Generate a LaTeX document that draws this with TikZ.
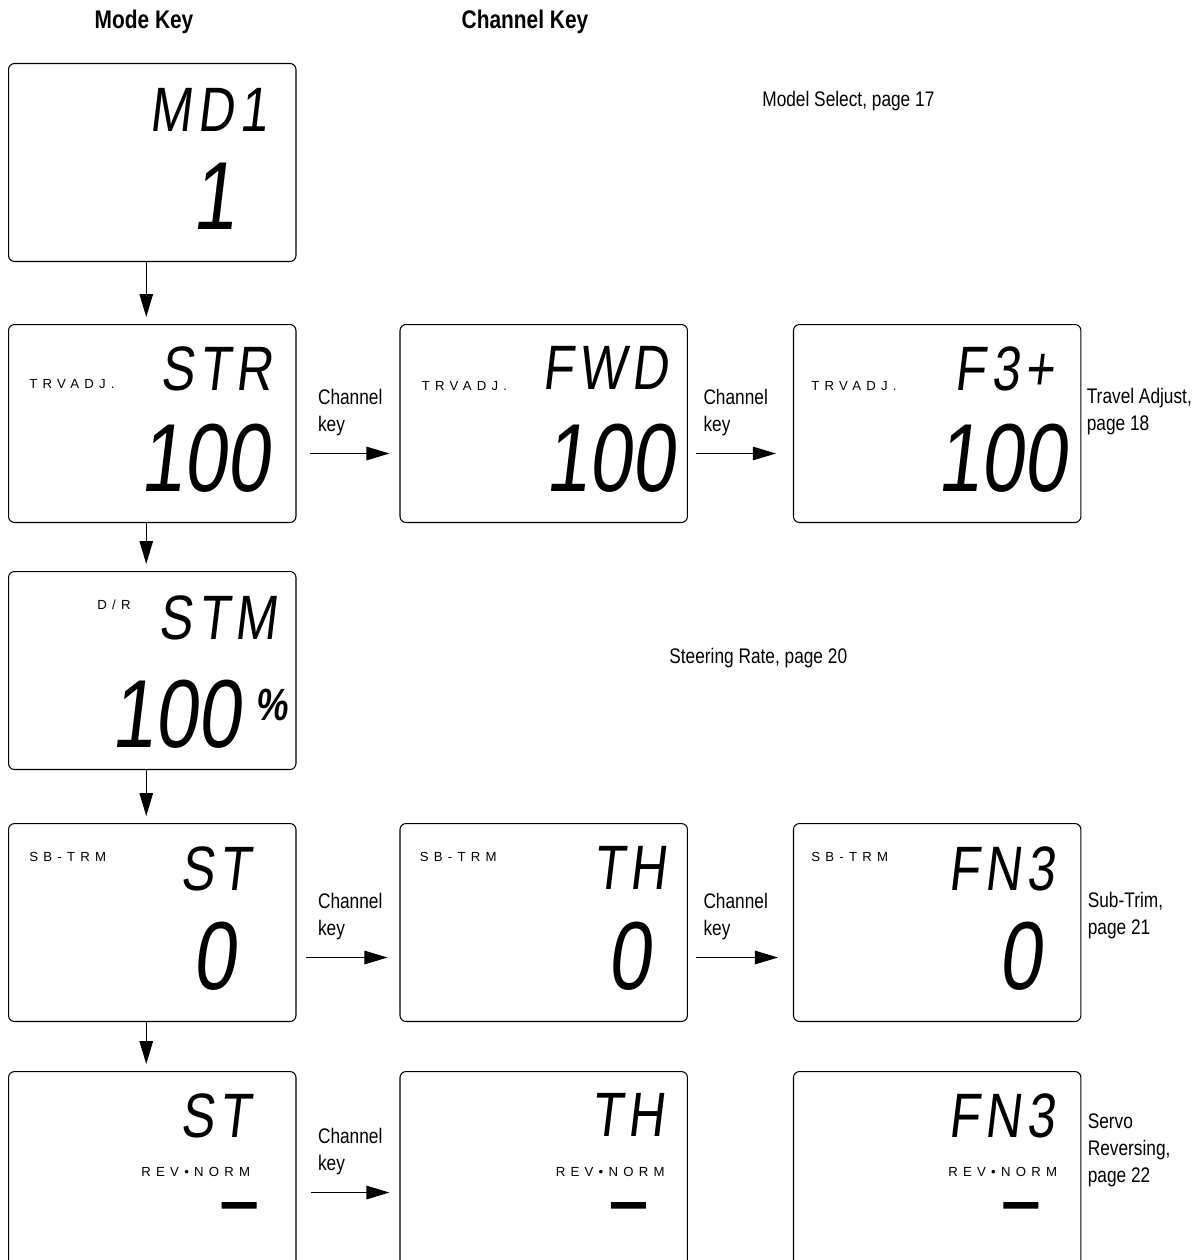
\documentclass[tikz,border=0pt]{standalone}
\usepackage{fontspec}
\setmainfont{Liberation Sans}[FakeStretch=0.82]
\newfontfamily\lcdfont{Liberation Sans}[FakeStretch=0.8,FakeSlant=0.12]
\newfontfamily\lcdwide{Liberation Sans}[FakeStretch=0.8,FakeSlant=0.12,LetterSpace=9]
\newfontfamily\lcdtag{Liberation Sans}[LetterSpace=40]
\usetikzlibrary{arrows.meta,positioning,shapes.misc}

\begin{document}
\begin{tikzpicture}[
    x=0.02cm, y=-0.02cm,
    panel/.style={draw, rounded corners=0.12cm, minimum width=5.75cm, minimum height=3.96cm, line width=0.6pt, inner sep=0},
    lcdtop/.style={inner sep=0, anchor=north east, font=\lcdwide\fontsize{35.7}{36}\selectfont},
    lcdbig/.style={inner sep=0, anchor=north east, font=\lcdfont\fontsize{55}{56}\selectfont},
    tag/.style={inner sep=0, anchor=west, font=\lcdtag\fontsize{7.5}{8}\selectfont},
    segbar/.style={chamfered rectangle, chamfered rectangle xsep=0.08cm, chamfered rectangle ysep=0.065cm, fill, inner sep=0, minimum width=0.7cm, minimum height=0.13cm, anchor=north east},
    note/.style={inner sep=0, align=left, font=\fontsize{12}{15.4}\selectfont},
    heading/.style={font=\bfseries\fontsize{14.5}{16}\selectfont},
    flow/.style={-{Triangle[length=0.46cm,width=0.27cm]}, line width=0.6pt}
]
    \useasboundingbox (0,0) rectangle (1200,1260);
    \clip (0,0) rectangle (1200,1260);

    \node[heading] (modehead) at (144,22) {Mode Key};
    \node[heading] (chanhead) at (525,22) {Channel Key};

    % display panels
    \node[panel, anchor=north west] (mdsel) at (8,63) {};
    \node[panel, below=1.24cm of mdsel] (trvst) {};
    \node[panel, right=2.06cm of trvst] (trvfwd) {};
    \node[panel, right=2.1cm of trvfwd] (trvf3) {};
    \node[panel, below=0.96cm of trvst] (dr) {};
    \node[panel, below=1.06cm of dr] (sbst) {};
    \node[panel, right=2.06cm of sbst] (sbth) {};
    \node[panel, right=2.1cm of sbth] (sbfn) {};
    \node[panel, below=0.98cm of sbst] (revst) {};
    \node[panel, right=2.06cm of revst] (revth) {};
    \node[panel, right=2.1cm of revth] (revfn) {};

    % model select
    \node[lcdtop] (mdname) at ([shift={(-29,25)}]mdsel.north east) {MD1};
    \node[lcdbig] (mdval) at ([shift={(-61,100)}]mdsel.north east) {1};

    % travel adjust
    \node[tag] (trvsttag) at ([shift={(21,60)}]trvst.north west) {TRVADJ.};
    \node[lcdtop] (trvstname) at ([shift={(-24,22)}]trvst.north east) {STR};
    \node[lcdbig] (trvstval) at ([shift={(-27,100)}]trvst.north east) {100};
    \node[tag] (trvfwdtag) at ([shift={(22,62)}]trvfwd.north west) {TRVADJ.};
    \node[lcdtop] (trvfwdname) at ([shift={(-20,22)}]trvfwd.north east) {FWD};
    \node[lcdbig] (trvfwdval) at ([shift={(-13,100)}]trvfwd.north east) {100};
    \node[tag] (trvf3tag) at ([shift={(18,62)}]trvf3.north west) {TRVADJ.};
    \node[lcdtop] (trvf3name) at ([shift={(-27,22)}]trvf3.north east) {F3+};
    \node[lcdbig] (trvf3val) at ([shift={(-15,100)}]trvf3.north east) {100};

    % steering rate
    \node[tag] (drtag) at ([shift={(89,34)}]dr.north west) {D/R};
    \node[lcdtop] (drname) at ([shift={(-20,24)}]dr.north east) {STM};
    \node[lcdbig] (drval) at ([shift={(-56,109)}]dr.north east) {100};
    \node[inner sep=0, anchor=north east, font=\lcdfont\bfseries\fontsize{25.7}{26}\selectfont] (drpct) at ([shift={(-9,118)}]dr.north east) {\%};

    % sub-trim
    \node[tag] (sbsttag) at ([shift={(21,34)}]sbst.north west) {SB-TRM};
    \node[lcdtop] (sbstname) at ([shift={(-46,23)}]sbst.north east) {ST};
    \node[lcdbig] (sbstval) at ([shift={(-61,99)}]sbst.north east) {0};
    \node[tag] (sbthtag) at ([shift={(20,34)}]sbth.north west) {SB-TRM};
    \node[lcdtop] (sbthname) at ([shift={(-22,23)}]sbth.north east) {TH};
    \node[lcdbig] (sbthval) at ([shift={(-37,99)}]sbth.north east) {0};
    \node[tag] (sbfntag) at ([shift={(18,34)}]sbfn.north west) {SB-TRM};
    \node[lcdtop] (sbfnname) at ([shift={(-27,23)}]sbfn.north east) {FN3};
    \node[lcdbig] (sbfnval) at ([shift={(-40,99)}]sbfn.north east) {0};

    % servo reversing
    \node[lcdtop] (revstname) at ([shift={(-46,22)}]revst.north east) {ST};
    \node[tag] (revsttag) at ([shift={(133,101)}]revst.north west) {REV•NORM};
    \node[segbar] (revstbar) at ([shift={(-40,131)}]revst.north east) {};
    \node[lcdtop] (revthname) at ([shift={(-24,22)}]revth.north east) {TH};
    \node[tag] (revthtag) at ([shift={(156,101)}]revth.north west) {REV•NORM};
    \node[segbar] (revthbar) at ([shift={(-42,131)}]revth.north east) {};
    \node[lcdtop] (revfnname) at ([shift={(-27,22)}]revfn.north east) {FN3};
    \node[tag] (revfntag) at ([shift={(155,101)}]revfn.north west) {REV•NORM};
    \node[segbar] (revfnbar) at ([shift={(-43,131)}]revfn.north east) {};

    % page notes
    \node[note, anchor=west] (modelnote) at (762,101) {Model Select, page 17};
    \node[note, anchor=west] (travelnote) at ([shift={(5,-12)}]trvf3.east) {Travel Adjust,\\page 18};
    \node[note, anchor=west] (steernote) at (669,658) {Steering Rate, page 20};
    \node[note, anchor=west] (subnote) at ([shift={(6,-7)}]sbfn.east) {Sub-Trim,\\page 21};
    \node[note, anchor=west] (servonote) at ([shift={(6,-20)}]revfn.east) {Servo\\Reversing,\\page 22};

    % mode key
    \draw[flow, shorten >=0.14cm] ([xshift=-0.12cm]mdsel.south) -- ([xshift=-0.12cm]trvst.north);
    \draw[flow, shorten >=0.14cm] ([xshift=-0.12cm]trvst.south) -- ([xshift=-0.12cm]dr.north);
    \draw[flow, shorten >=0.14cm] ([xshift=-0.12cm]dr.south) -- ([xshift=-0.12cm]sbst.north);
    \draw[flow, shorten >=0.14cm] ([xshift=-0.12cm]sbst.south) -- ([xshift=-0.12cm]revst.north);

    % channel key
    \draw[flow, shorten <=0.28cm, shorten >=0.2cm] ([yshift=-0.6cm]trvst.east) -- node[note, pos=0, anchor=south west, xshift=0.42cm, yshift=0.34cm] (trvkey1) {Channel\\key} ([yshift=-0.6cm]trvfwd.west);
    \draw[flow, shorten <=0.16cm, shorten >=0.34cm] ([yshift=-0.6cm]trvfwd.east) -- node[note, pos=0, anchor=south west, xshift=0.3cm, yshift=0.34cm] (trvkey2) {Channel\\key} ([yshift=-0.6cm]trvf3.west);
    \draw[flow, shorten <=0.2cm, shorten >=0.24cm] ([yshift=-0.7cm]sbst.east) -- node[note, pos=0, anchor=south west, xshift=0.42cm, yshift=0.34cm] (sbkey1) {Channel\\key} ([yshift=-0.7cm]sbth.west);
    \draw[flow, shorten <=0.16cm, shorten >=0.3cm] ([yshift=-0.7cm]sbth.east) -- node[note, pos=0, anchor=south west, xshift=0.3cm, yshift=0.34cm] (sbkey2) {Channel\\key} ([yshift=-0.7cm]sbfn.west);
    \draw[flow, shorten <=0.3cm, shorten >=0.2cm] ([yshift=-0.44cm]revst.east) -- node[note, pos=0, anchor=south west, xshift=0.42cm, yshift=0.34cm] (revkey1) {Channel\\key} ([yshift=-0.44cm]revth.west);
\end{tikzpicture}
\end{document}
